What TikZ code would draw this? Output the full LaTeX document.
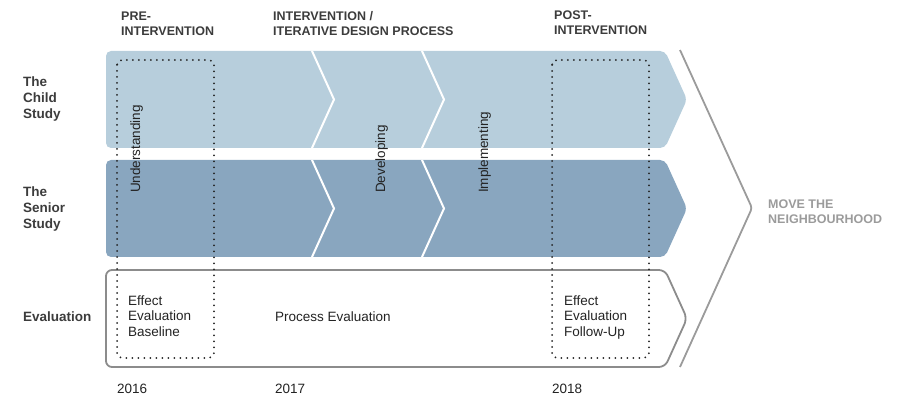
\documentclass[tikz,border=0pt]{standalone}
\usepackage{fontspec}
\setmainfont{Liberation Sans}
\usepackage{xcolor}
\usepackage{tikz}
\usetikzlibrary{positioning}

\definecolor{childblue}{RGB}{183,206,220}
\definecolor{seniorblue}{RGB}{137,166,191}
\definecolor{evalgray}{RGB}{140,140,140}
\definecolor{labelgray}{RGB}{60,60,60}
\definecolor{movegray}{RGB}{155,155,155}
\definecolor{textgray}{RGB}{35,35,35}

\begin{document}
\begin{tikzpicture}[x=1pt, y=-1pt,
    rowlabel/.style={anchor=base west, inner sep=0pt, align=left, text=labelgray,
        font=\fontsize{13.5}{16}\selectfont\bfseries},
    phase/.style={anchor=base west, inner sep=0pt, align=left, text=labelgray,
        font=\fontsize{12.5}{15}\selectfont\bfseries},
    plain/.style={anchor=base west, inner sep=0pt, align=left, text=textgray,
        font=\fontsize{13.5}{16}\selectfont},
    stagetext/.style={plain, rotate=90},
    divider/.style={white, line width=2pt},
    window/.style={textgray, line width=2pt, dash pattern=on 0pt off 6pt,
        line cap=round, rounded corners=5pt}]
    \useasboundingbox (0,0) rectangle (897,395);

    % study rows
    \fill[childblue, rounded corners=5pt] (106,51) -- (665,51) -- (687,99.5) -- (665,148) -- (106,148) -- cycle;
    \fill[seniorblue, rounded corners=5pt] (106,160) -- (665,160) -- (687,208.5) -- (665,257) -- (106,257) -- cycle;
    \draw[evalgray, line width=1.8pt, rounded corners=6pt] (106,270) -- (665,270) -- (687,318.5) -- (665,367) -- (106,367) -- cycle;

    % stage dividers
    \foreach \dx in {312,422} {
        \draw[divider] (\dx,51) -- (\dx+22,99.5) -- (\dx,148);
        \draw[divider] (\dx,160) -- (\dx+22,208.5) -- (\dx,257);
    }

    % outer chevron
    \draw[movegray, line width=1.8pt, rounded corners=3pt] (680,50) -- (752,208) -- (680,367);

    % measurement windows
    \draw[window] (117,60) rectangle (214,358);
    \draw[window] (552,60) rectangle (649,358);

    % phases (anchored on the last line)
    \node (pre) [phase] at (121,36) {PRE-\\INTERVENTION};
    \node (inter) [phase] at (273,36) {INTERVENTION /\\ITERATIVE DESIGN PROCESS};
    \node (post) [phase] at (554,35) {POST-\\INTERVENTION};
    \node (move) [phase, text=movegray] at (768,224) {MOVE THE\\NEIGHBOURHOOD};

    % rows
    \node (child) [rowlabel] at (23,119) {The\\Child\\Study};
    \node (senior) [rowlabel] at (23,229) {The\\Senior\\Study};
    \node (evaluation) [rowlabel] at (23,322) {Evaluation};

    % stages
    \node (understanding) [stagetext] at (140,193) {Understanding};
    \node (developing) [stagetext] at (385,193) {Developing};
    \node (implementing) [stagetext] at (488,193) {Implementing};

    % evaluation
    \node (baseline) [plain] at (128,337) {Effect\\Evaluation\\Baseline};
    \node (process) [plain] at (275,322) {Process Evaluation};
    \node (followup) [plain] at (564,337) {Effect\\Evaluation\\Follow-Up};

    % years
    \node (y2016) [plain] at (117,393) {2016};
    \node (y2017) [plain] at (275,393) {2017};
    \node (y2018) [plain] at (552,393) {2018};
\end{tikzpicture}
\end{document}
